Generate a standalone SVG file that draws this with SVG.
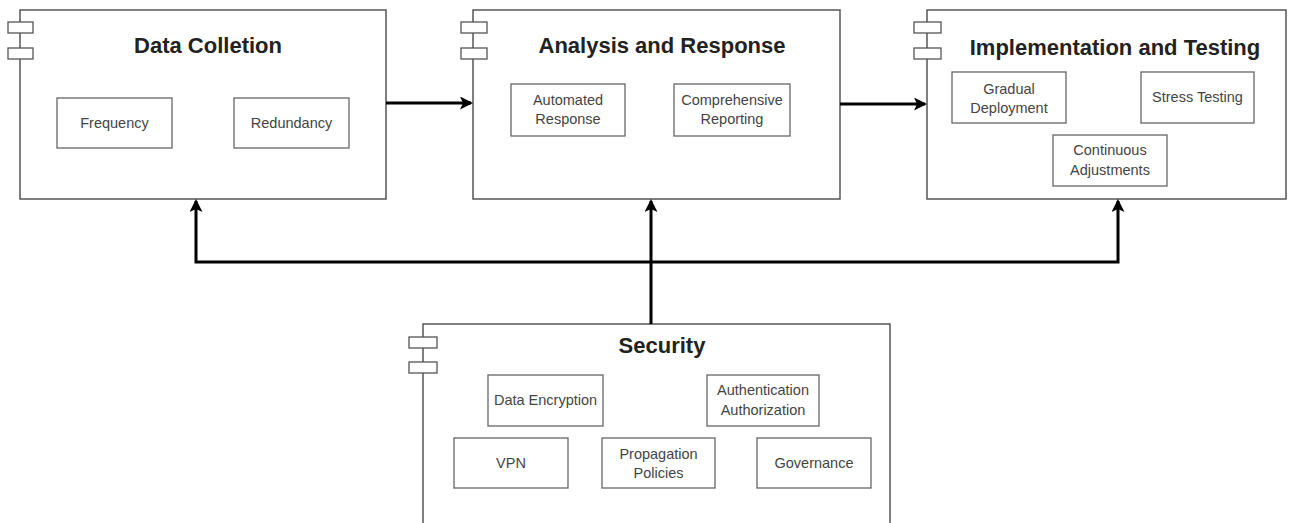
<svg xmlns="http://www.w3.org/2000/svg" width="1291" height="523" viewBox="0 0 1291 523">
<style>
.comp{fill:#fff;stroke:#555;stroke-width:1.5}
.tab{fill:#fff;stroke:#555;stroke-width:1.3}
.item{fill:#fff;stroke:#666;stroke-width:1.3}
.title{font-family:"Liberation Sans",Arial,sans-serif;font-weight:bold;font-size:22px;fill:#222;text-anchor:middle}
.txt{font-family:"Liberation Sans",Arial,sans-serif;font-size:14.5px;fill:#444;text-anchor:middle}
.conn{fill:none;stroke:#000;stroke-width:3}
</style>
<defs>
<marker id="arr" markerWidth="14" markerHeight="14" refX="11" refY="6.5" orient="auto" markerUnits="userSpaceOnUse">
<path d="M0,0 L13,6.5 L0,13 L3,6.5 Z" fill="#000"/>
</marker>
</defs>
<rect width="1291" height="523" fill="#fff"/>

<g id="data-colletion">
<rect class="comp" x="20" y="10" width="366" height="189"/>
<rect class="tab" x="8" y="22" width="25" height="11"/>
<rect class="tab" x="8" y="48" width="25" height="11"/>
<text class="title" x="208" y="53">Data Colletion</text>
<rect class="item" x="57" y="98" width="115" height="50"/>
<text class="txt" x="114.5" y="128">Frequency</text>
<rect class="item" x="234" y="98" width="115" height="50"/>
<text class="txt" x="291.5" y="128">Redundancy</text>
</g>

<g id="analysis-response">
<rect class="comp" x="473" y="10" width="367" height="189"/>
<rect class="tab" x="461" y="22" width="26" height="11"/>
<rect class="tab" x="461" y="48" width="26" height="11"/>
<text class="title" x="662" y="53">Analysis and Response</text>
<rect class="item" x="511" y="84" width="114" height="52"/>
<text class="txt" x="568" y="105">Automated</text>
<text class="txt" x="568" y="124">Response</text>
<rect class="item" x="674" y="84" width="116" height="52"/>
<text class="txt" x="732" y="105">Comprehensive</text>
<text class="txt" x="732" y="124">Reporting</text>
</g>

<g id="implementation-testing">
<rect class="comp" x="927" y="10" width="359" height="189"/>
<rect class="tab" x="914" y="22" width="27" height="11"/>
<rect class="tab" x="914" y="48" width="27" height="11"/>
<text class="title" x="1115" y="55">Implementation and Testing</text>
<rect class="item" x="952" y="72" width="114" height="51"/>
<text class="txt" x="1009" y="94">Gradual</text>
<text class="txt" x="1009" y="113">Deployment</text>
<rect class="item" x="1141" y="72" width="113" height="51"/>
<text class="txt" x="1197.5" y="102">Stress Testing</text>
<rect class="item" x="1053" y="135" width="114" height="51"/>
<text class="txt" x="1110" y="155">Continuous</text>
<text class="txt" x="1110" y="175">Adjustments</text>
</g>

<g id="security">
<rect class="comp" x="423" y="324" width="467" height="220"/>
<rect class="tab" x="409" y="337" width="28" height="11"/>
<rect class="tab" x="409" y="362" width="28" height="11"/>
<text class="title" x="662" y="353">Security</text>
<rect class="item" x="488" y="375" width="115" height="51"/>
<text class="txt" x="545.5" y="405">Data Encryption</text>
<rect class="item" x="707" y="375" width="112" height="51"/>
<text class="txt" x="763" y="395">Authentication</text>
<text class="txt" x="763" y="415">Authorization</text>
<rect class="item" x="454" y="438" width="114" height="50"/>
<text class="txt" x="511" y="468">VPN</text>
<rect class="item" x="602" y="438" width="113" height="50"/>
<text class="txt" x="658.5" y="459">Propagation</text>
<text class="txt" x="658.5" y="478">Policies</text>
<rect class="item" x="757" y="438" width="114" height="50"/>
<text class="txt" x="814" y="468">Governance</text>
</g>

<g id="connectors">
<path class="conn" d="M386,103 L471,103" marker-end="url(#arr)"/>
<path class="conn" d="M840,104 L925,104" marker-end="url(#arr)"/>
<path class="conn" d="M651,324 L651,201" marker-end="url(#arr)"/>
<path class="conn" d="M651,262 L196,262 L196,201" marker-end="url(#arr)"/>
<path class="conn" d="M651,262 L1118,262 L1118,201" marker-end="url(#arr)"/>
</g>
</svg>
